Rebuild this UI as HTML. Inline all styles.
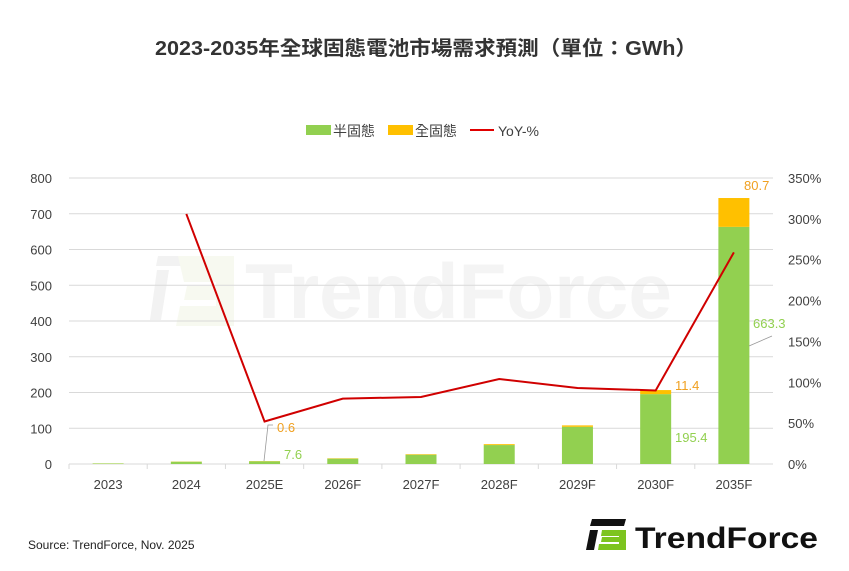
<!DOCTYPE html>
<html><head><meta charset="utf-8">
<style>
body{margin:0;background:#fff;}
svg{display:block;font-family:"Liberation Sans","Noto Sans CJK TC",sans-serif;}
</style></head>
<body>
<svg id="c" width="849" height="571" viewBox="0 0 849 571" xmlns="http://www.w3.org/2000/svg">
<rect width="849" height="571" fill="#fff"/>
<text x="155" y="55" font-size="20" font-weight="bold" fill="#333" textLength="542" lengthAdjust="spacingAndGlyphs">2023-2035年全球固態電池市場需求預測（單位：GWh）</text>
<text x="245" y="318" font-size="78" font-weight="bold" fill="#f4f4f4" textLength="427" lengthAdjust="spacingAndGlyphs">TrendForce</text>
<g>
<path d="M158 256 h48 l-2 10 h-48 z M157 270 h12 l-8 50 h-11 z" fill="#f2f2f2"/>
<path d="M178 256 h56 v70 h-58 l4 -20 h36 v-6 h-32 l3 -14 h29 v-4 h-32 z" fill="#f7f9f0"/>
</g>
<g>
<rect x="306" y="125" width="25" height="10" fill="#92d050"/>
<text x="333" y="136" font-size="14" fill="#404040">半固態</text>
<rect x="388" y="125" width="25" height="10" fill="#ffc000"/>
<text x="415" y="136" font-size="14" fill="#404040">全固態</text>
<line x1="470" y1="130" x2="494" y2="130" stroke="#e00000" stroke-width="2"/>
<text x="498" y="136" font-size="14" fill="#404040">YoY-%</text>
</g>
<g id="grid"></g><g id="bars"></g><g id="line"></g><g id="labels"></g>
<text x="28" y="549" font-size="12" fill="#222">Source: TrendForce, Nov. 2025</text>
<g>
<path d="M592 519 h34 l-2 7 h-34 z M590 530 h8 l-4 20 h-8 z" fill="#111"/>
<path d="M602 530 h24 v20 h-28 l1 -6 h20 v-2 h-18 l1 -5 h17 v-1 h-18 z" fill="#7dc41f"/>
<text x="635" y="548" font-size="30" font-weight="bold" fill="#111" textLength="183" lengthAdjust="spacingAndGlyphs">TrendForce</text>
</g>
</svg>
<script>
const categories=["2023","2024","2025E","2026F","2027F","2028F","2029F","2030F","2035F"];
const semiSolid=[1.5,6.5,7.6,15,26,53,104,195.4,663.3];
const allSolid=[0.2,0.5,0.6,1,1.5,2.5,4,11.4,80.7];
const yoy=[null,306,52,80,82,104,93,90,259];
const leftTicks=[0,100,200,300,400,500,600,700,800];
const rightTicks=[0,50,100,150,200,250,300,350];
const NS="http://www.w3.org/2000/svg";
const L=69,R=773,T=178,B=464;
const step=(R-L)/categories.length;
const xc=i=>L+step*(i+0.5);
const yl=v=>B-(v/800)*(B-T);
const yr=v=>B-(v/350)*(B-T);
function mk(tag,attrs,parent,txt){const e=document.createElementNS(NS,tag);for(const k in attrs)e.setAttribute(k,attrs[k]);if(txt!=null)e.textContent=txt;document.getElementById(parent).appendChild(e);return e;}
leftTicks.forEach(v=>{
  if(v>0){const g=mk('line',{x1:L,x2:R,y1:yl(v),y2:yl(v),stroke:'#d9d9d9','stroke-width':1},'grid');
  
  }
  const t=mk('text',{x:52,y:yl(v)+5,'text-anchor':'end','font-size':13,fill:'#404040'},'grid',v);
  
  
});
rightTicks.forEach(v=>{
  const t=mk('text',{x:788,y:yr(v)+5,'font-size':13,fill:'#404040'},'grid',v+'%');
  
  
});
const ax=mk('line',{x1:L,x2:R,y1:B,y2:B,stroke:'#d9d9d9'},'grid');


categories.forEach((c,i)=>{
  const tk=mk('line',{x1:L+step*i,x2:L+step*i,y1:B,y2:B+5,stroke:'#d9d9d9'},'grid');
  
  
  const t=mk('text',{x:xc(i),y:B+25,'text-anchor':'middle','font-size':13,fill:'#404040'},'grid',c);
  
  
  const w=31,x=xc(i)-w/2;
  const s=mk('rect',{x:x,y:yl(semiSolid[i]),width:w,height:B-yl(semiSolid[i]),fill:'#92d050'},'bars');
  
  
  const a=mk('rect',{x:x,y:yl(semiSolid[i]+allSolid[i]),width:w,height:yl(semiSolid[i])-yl(semiSolid[i]+allSolid[i]),fill:'#ffc000'},'bars');
  
  
});
let pts=[];yoy.forEach((v,i)=>{if(v!=null)pts.push(xc(i)+','+yr(v));});
const pl=mk('polyline',{points:pts.join(' '),fill:'none',stroke:'#d00000','stroke-width':2},'line');


function lab(txt,x,y,col,name){const t=mk('text',{x:x,y:y,'font-size':13,fill:col},'labels',txt);

}
const gc='#92d050',oc='#f0a020';
lab(allSolid[2],277,432,oc,'label-all-solid-2025E');
lab(semiSolid[2],284,459,gc,'label-semi-solid-2025E');
const ld=mk('path',{d:`M264 ${B-3} L268 425 L273 425`,fill:'none',stroke:'#999','stroke-width':0.8},'labels');


lab(allSolid[7],675,390,oc,'label-all-solid-2030F');
lab(semiSolid[7],675,442,gc,'label-semi-solid-2030F');
lab(allSolid[8],744,190,oc,'label-all-solid-2035F');
lab(semiSolid[8],753,328,gc,'label-semi-solid-2035F');
const ld2=mk('line',{x1:749,y1:346,x2:772,y2:336,stroke:'#999','stroke-width':0.8},'labels');


</script>
</body></html>
